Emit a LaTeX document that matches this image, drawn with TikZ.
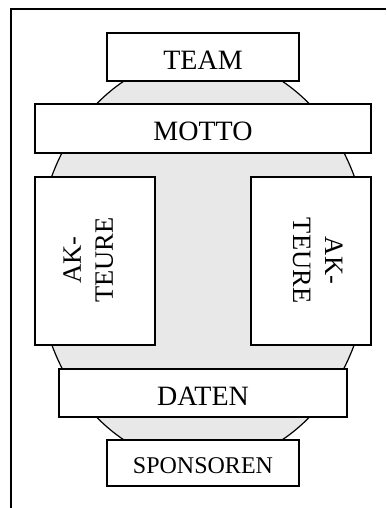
\documentclass[tikz,border=0pt]{standalone}
\usepackage{fontspec}
\setmainfont{Liberation Serif}
\definecolor{hubgrey}{RGB}{232,232,232}
\tikzset{
  x=1pt, y=-1pt,
  frameline/.style={line width=1.8pt},
  hub/.style={draw, fill=hubgrey, line width=1.2pt},
  block/.style={draw, fill=white, line width=1.6pt, rectangle, inner sep=0pt,
    font=\fontsize{28}{33}\selectfont, text height=24.5pt, text depth=0pt},
  smallblock/.style={block, font=\fontsize{24}{28}\selectfont, text height=21pt},
  sidebox/.style={draw, fill=white, line width=1.6pt, rectangle, inner sep=0pt,
    minimum width=120pt, minimum height=168pt},
  sidelabel/.style={inner sep=0pt, align=center, font=\fontsize{26.5}{32}\selectfont}
}
\begin{document}
\begin{tikzpicture}
  \useasboundingbox (0,0) rectangle (386,508);
  % page frame: top and left rules only
  \coordinate (frameTL) at (11,9);
  \coordinate (frameTR) at (386,9);
  \coordinate (frameBL) at (11,508);
  \draw[frameline] (frameTR) -- (frameTL) -- (frameBL);
  % grey hub behind the blocks
  \draw[hub] (203,260.5) ellipse [x radius=166, y radius=204];
  % blocks
  \node[block, minimum width=192pt, minimum height=48pt] (team) at (203,57) {TEAM};
  \node[block, minimum width=336pt, minimum height=49pt] (motto) at (203,128.5) {MOTTO};
  \node[sidebox] (akl) at (95,261) {};
  \node[sidebox] (akr) at (311,261) {};
  \node[sidelabel, rotate=90] (aklText) at (88.3,260) {AK-\\TEURE};
  \node[sidelabel, rotate=-90] (akrText) at (317.7,260.5) {AK-\\TEURE};
  \node[block, minimum width=288pt, minimum height=48pt] (daten) at (203,393) {DATEN};
  \node[smallblock, minimum width=192pt, minimum height=46pt] (sponsoren) at (203,463) {SPONSOREN};
\end{tikzpicture}
\end{document}
